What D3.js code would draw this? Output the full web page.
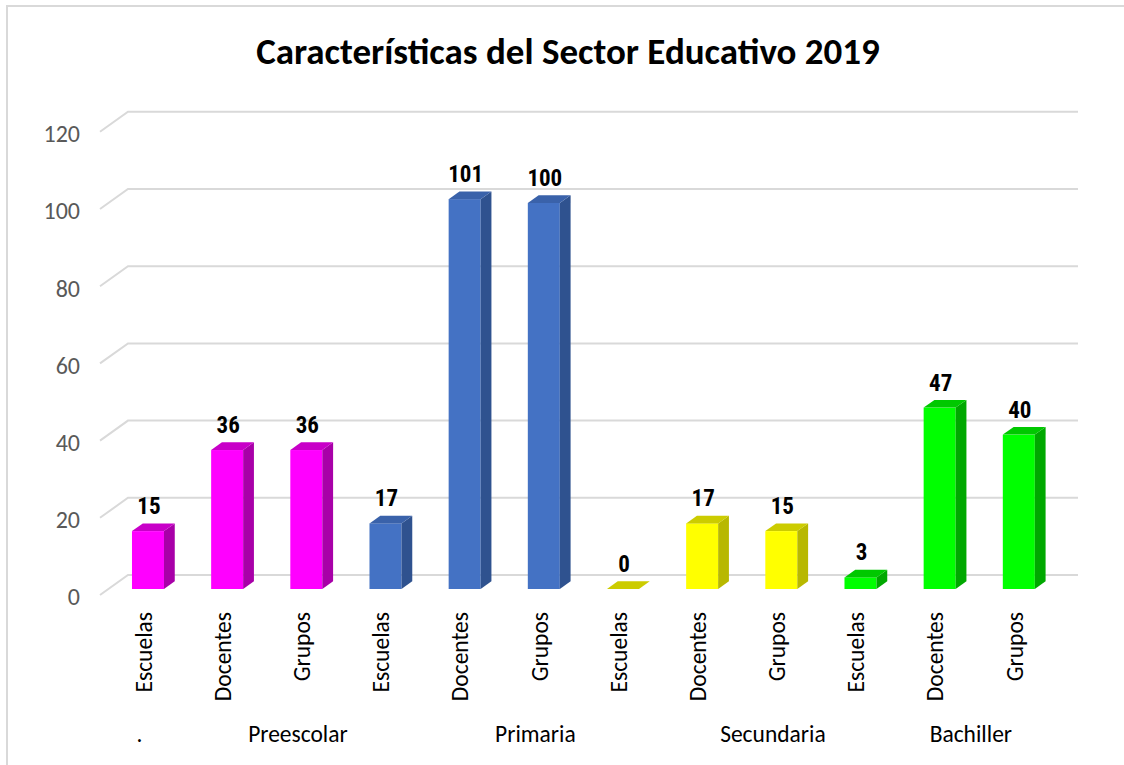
<!DOCTYPE html>
<html>
<head>
<meta charset="utf-8">
<script src="https://cdn.jsdelivr.net/npm/d3@7"></script>
<style>
  html, body { margin: 0; padding: 0; background: #fff; }
  svg { display: block; }
</style>
</head>
<body>
<svg id="chart" width="1124" height="765"></svg>
<script>
// ---- data ----
const title = "Características del Sector Educativo 2019";
const categories = ["Escuelas","Docentes","Grupos","Escuelas","Docentes","Grupos","Escuelas","Docentes","Grupos","Escuelas","Docentes","Grupos"];
const values = [15, 36, 36, 17, 101, 100, 0, 17, 15, 3, 47, 40];
const barColorKey = ["mag","mag","mag","blue","blue","blue","yel","yel","yel","grn","grn","grn"];
const groupLabels = [".", "Preescolar", "Primaria", "Secundaria", "Bachiller"];
const groupStart = [0, 1, 4, 7, 10];
const groupEnd   = [0, 3, 6, 9, 11];
const yTicks = [0, 20, 40, 60, 80, 100, 120];

const palette = {
  mag:  {front: "#FF00FF", side: "#A800A8", top: "#C800C8"},
  blue: {front: "#4472C4", side: "#2F528F", top: "#3A62AA"},
  yel:  {front: "#FFFF00", side: "#B8B800", top: "#CCCC00"},
  grn:  {front: "#00FF00", side: "#00A800", top: "#00C800"}
};

// ---- layout ----
const svg = d3.select("#chart");
const W = 1124, H = 765;
const originX = 100, originY = 595;   // front-left floor corner
const depthDX = 28, depthDY = 20;     // back plane offset
const plotW = 950;

const x = d3.scaleBand().domain(d3.range(categories.length)).range([0, plotW]);
const y = d3.scaleLinear().domain([0, 120]).range([0, 463.2]);

// point at depth fraction t
const px = (xv, t) => originX + xv + depthDX * t;
const py = (v, t) => originY - depthDY * t - y(v);

const bodyFont = "Carlito, Lato, 'Open Sans', sans-serif";

// chart border
svg.append("rect").attr("x", 7).attr("y", 6).attr("width", W + 40).attr("height", H + 40)
  .attr("fill", "none").attr("stroke", "#D9D9D9").attr("stroke-width", 2);

// title
svg.append("text").attr("x", 568).attr("y", 64).attr("text-anchor", "middle")
  .style("font-family", bodyFont).style("font-weight", "bold")
  .style("font-size", "37px").attr("fill", "#000").text(title);

// gridlines (back wall + floor/side diagonal)
const grid = svg.append("g");
yTicks.forEach(v => {
  grid.append("path")
    .attr("d", `M${px(0,0)},${py(v,0)} L${px(0,1)},${py(v,1)} L${px(plotW,1)},${py(v,1)}`)
    .attr("fill", "none").attr("stroke", "#D9D9D9").attr("stroke-width", 2);
});

// y tick labels
svg.append("g").selectAll("text").data(yTicks).join("text")
  .attr("x", 80).attr("y", d => py(d, 0) + 2).attr("dy", "0.35em").attr("text-anchor", "end")
  .style("font-family", bodyFont).style("font-size", "24px")
  .attr("fill", "#595959").text(d => d);

// bars
const barW = 32;
const tFront = 0.3, tBack = 0.685;
const bars = svg.append("g");
values.forEach((v, i) => {
  const c = palette[barColorKey[i]];
  const cx = x(i) + x.bandwidth() / 2;
  const xl = px(cx - barW / 2, tFront), xr = xl + barW;
  const sdx = depthDX * (tBack - tFront), sdy = depthDY * (tBack - tFront);
  const yb = py(0, tFront), yt = py(v, tFront);
  const g = bars.append("g");
  if (v > 0) {
    g.append("rect").attr("x", xl).attr("y", yt).attr("width", barW).attr("height", yb - yt).attr("fill", c.front);
    g.append("path").attr("d", `M${xr},${yt} L${xr+sdx},${yt-sdy} L${xr+sdx},${yb-sdy} L${xr},${yb} Z`).attr("fill", c.side);
  }
  g.append("path").attr("d", `M${xl},${yt} L${xr},${yt} L${xr+sdx},${yt-sdy} L${xl+sdx},${yt-sdy} Z`).attr("fill", c.top);
  // data label
  svg.append("text").attr("x", xl + barW / 2 + 1).attr("y", yt - 17).attr("text-anchor", "middle")
    .style("font-family", "'Liberation Sans Narrow', 'Arial Narrow', 'Roboto Condensed', sans-serif")
    .style("font-weight", "bold").style("font-size", "23px").attr("fill", "#000").text(v);
});

// category labels (rotated)
svg.append("g").selectAll("text").data(categories).join("text")
  .attr("transform", (d, i) => `translate(${px(x(i) + x.bandwidth()/2, 0) + 4},612) rotate(-90)`)
  .attr("dy", "0.35em").attr("text-anchor", "end")
  .style("font-family", bodyFont).style("font-size", "23.5px")
  .attr("fill", "#000").text(d => d);

// group labels
svg.append("g").selectAll("text").data(groupLabels).join("text")
  .attr("x", (d, i) => px((x(groupStart[i]) + x(groupEnd[i]) + x.bandwidth()) / 2, 0))
  .attr("y", 742).attr("text-anchor", "middle")
  .style("font-family", bodyFont).style("font-size", "23.5px")
  .attr("fill", "#000").text(d => d);
</script>
</body>
</html>
